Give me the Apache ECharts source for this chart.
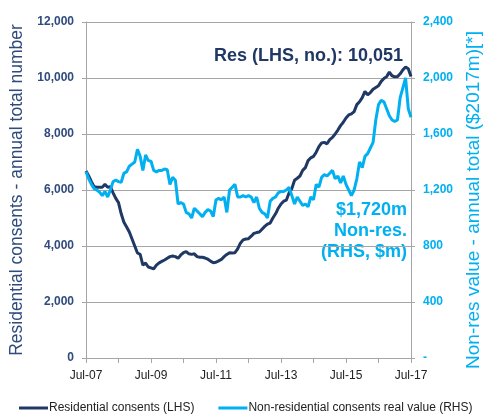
<!DOCTYPE html>
<html>
<head>
<meta charset="utf-8">
<title>Building consents</title>
<script src="https://cdn.jsdelivr.net/npm/echarts@6/dist/echarts.min.js"></script>
<style>
    html, body { margin: 0; padding: 0; background: #fff; }
    #chart { width: 484px; height: 415px; }
</style>
</head>
<body>
<div id="chart"></div>
<script type="text/javascript">
    // monthly, Jul-07 .. Jul-17
    var months = ['Jan','Feb','Mar','Apr','May','Jun','Jul','Aug','Sep','Oct','Nov','Dec'];
    var categories = [];
    for (var i = 0; i <= 120; i++) {
        var m = (6 + i) % 12, y = 7 + Math.floor((6 + i) / 12);
        categories.push(months[m] + '-' + (y < 10 ? '0' + y : y));
    }

    // residential consents, annual total number (LHS)
    var residential = [
        6680, 6500, 6300, 6120, 6100, 6100, 6100, 6200, 6100, 6120, 5900, 5700,
        5550, 5150, 4850, 4680, 4500, 4250, 4000, 3750, 3700, 3320, 3390, 3250,
        3220, 3180, 3320, 3400, 3450, 3500, 3560, 3620, 3640, 3620, 3560, 3680,
        3760, 3800, 3720, 3700, 3720, 3620, 3600, 3600, 3570, 3530, 3460, 3400,
        3420, 3470, 3520, 3620, 3700, 3760, 3750, 3760, 3900, 4100, 4220, 4250,
        4260, 4350, 4450, 4480, 4500, 4600, 4700, 4780, 4820, 5000, 5150, 5350,
        5500, 5600, 5640, 5900, 6050, 6350, 6420, 6500, 6700, 6800, 7050, 7150,
        7200, 7350, 7550, 7680, 7700, 7650, 7800, 7880, 8000, 8140, 8300, 8420,
        8570, 8680, 8720, 8800, 9050, 9150, 9300, 9520, 9400, 9480, 9600, 9660,
        9720, 9880, 9980, 10050, 10210, 10080, 10040, 10050, 10150, 10290, 10390, 10330,
        10051
    ];

    // non-residential consents real value, $2017m (RHS)
    var nonResidential = [
        1330, 1280, 1240, 1210, 1200, 1185, 1160, 1190, 1150, 1200, 1260, 1270,
        1260, 1255, 1320, 1330, 1370, 1385, 1400, 1490, 1440, 1340, 1450, 1410,
        1405, 1340, 1330, 1340, 1340, 1350, 1345, 1240, 1290, 1270, 1100, 1110,
        1100, 1040, 1030, 1000, 1070, 1050, 1030, 1010, 1040, 1060, 1050, 1010,
        1130, 1140, 1130, 1150, 1040, 1200, 1220, 1240, 1150, 1150, 1160, 1150,
        1160, 1150, 1110, 1150, 1070, 1040, 1030, 1000, 1120, 1140, 1150, 1180,
        1190, 1190, 1200, 1220, 1160, 1100, 1150, 1120, 1090, 1100, 1080, 1150,
        1130, 1240, 1220, 1290, 1310, 1300, 1320, 1340, 1280, 1300, 1250, 1300,
        1240, 1200, 1160, 1200, 1280, 1400, 1360, 1440, 1460, 1500, 1540, 1700,
        1810, 1840, 1830, 1780, 1730, 1700, 1690, 1700, 1860, 1930, 2000, 1780,
        1720
    ];

    var resLabel = 'Res (LHS, no.): 10,051';
    var nonResLabel = ['$1,720m', 'Non-res.', '(RHS, $m)'];

    var NAVY = '#203864';
    var BLUE = '#00b0f0';
    var FONT = '"Liberation Sans", Arial, sans-serif';

    function fmt(v) {
        return String(v).replace(/\B(?=(\d{3})+(?!\d))/g, ',');
    }

    // right-aligned annotation lines
    var notes = [{
        type: 'text', right: 81, top: 47,
        style: { text: resLabel, fill: NAVY, font: 'bold 18px ' + FONT }
    }];
    nonResLabel.forEach(function (t, k) {
        notes.push({
            type: 'text', right: 77, top: 201 + k * 21,
            style: { text: t, fill: BLUE, font: 'bold 18px ' + FONT }
        });
    });

    var myChart = echarts.init(document.getElementById('chart'));
    var option = {
        animation: false,
        textStyle: { fontFamily: FONT },
        grid: { left: 86, right: 73, top: 22, bottom: 57, outerBoundsMode: 'none', containLabel: false },
        legend: {
            left: 14,
            top: 397,
            itemWidth: 29,
            itemHeight: 3,
            itemGap: 24,
            icon: 'rect',
            textStyle: { fontSize: 12, color: '#222', fontFamily: FONT, padding: [0, 0, 0, -4] },
            data: ['Residential consents (LHS)', 'Non-residential consents real value (RHS)']
        },
        xAxis: {
            type: 'category',
            boundaryGap: false,
            data: categories,
            axisLine: { lineStyle: { color: '#a6a6a6', width: 1 } },
            axisTick: {
                alignWithLabel: true,
                length: 5,
                interval: function (idx) { return idx % 12 === 0; },
                lineStyle: { color: '#a6a6a6' }
            },
            axisLabel: {
                interval: function (idx) { return idx % 24 === 0; },
                color: '#222',
                fontSize: 12,
                margin: 12
            },
            splitLine: { show: false }
        },
        yAxis: [
            {
                type: 'value',
                min: 0,
                max: 12000,
                interval: 2000,
                position: 'left',
                name: 'Residential consents - annual total number',
                nameLocation: 'middle',
                nameRotate: 90,
                nameGap: 58,
                nameTextStyle: { color: '#2e4b7c', fontSize: 17.5 },
                axisLine: { show: true, lineStyle: { color: '#a6a6a6' } },
                axisTick: { show: true, length: 4, lineStyle: { color: '#a6a6a6' } },
                axisLabel: {
                    color: '#2e4b7c',
                    fontWeight: 'bold',
                    fontSize: 12,
                    margin: 12,
                    formatter: function (v) { return fmt(v); }
                },
                splitLine: { lineStyle: { color: '#a6a6a6', width: 1 } }
            },
            {
                type: 'value',
                min: 0,
                max: 2400,
                interval: 400,
                position: 'right',
                name: 'Non-res value - annual total ($2017m)[*]',
                nameLocation: 'middle',
                nameRotate: 90,
                nameGap: 48,
                nameTextStyle: { color: BLUE, fontSize: 19, padding: [0, 20, 0, 0] },
                axisLine: { show: true, lineStyle: { color: '#a6a6a6' } },
                axisTick: { show: true, length: 4, lineStyle: { color: '#a6a6a6' } },
                axisLabel: {
                    color: BLUE,
                    fontWeight: 'bold',
                    fontSize: 12,
                    margin: 12,
                    formatter: function (v) { return v === 0 ? '-' : fmt(v); }
                },
                splitLine: { show: false }
            }
        ],
        graphic: notes,
        series: [
            {
                name: 'Residential consents (LHS)',
                type: 'line',
                yAxisIndex: 0,
                symbol: 'none',
                lineStyle: { color: NAVY, width: 3 },
                itemStyle: { color: NAVY },
                data: residential
            },
            {
                name: 'Non-residential consents real value (RHS)',
                type: 'line',
                yAxisIndex: 1,
                symbol: 'none',
                lineStyle: { color: BLUE, width: 3 },
                itemStyle: { color: BLUE },
                data: nonResidential
            }
        ]
    };
    myChart.setOption(option);
</script>
</body>
</html>
